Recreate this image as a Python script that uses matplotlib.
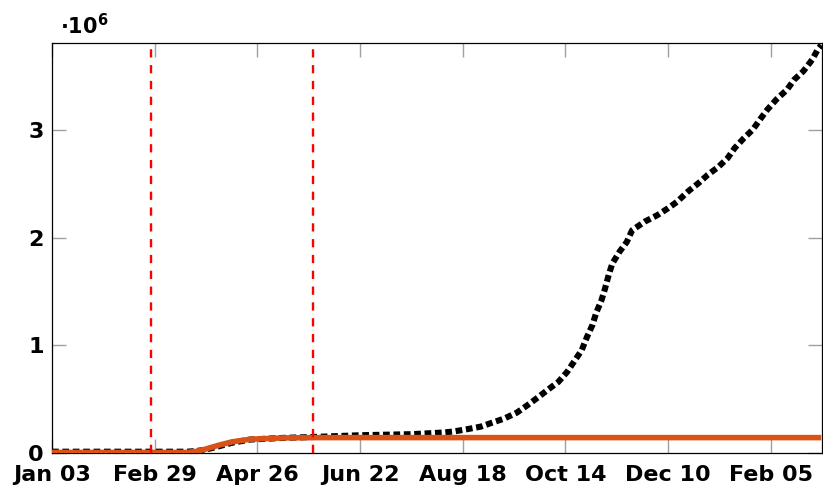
import matplotlib
matplotlib.use("Agg")
import matplotlib.pyplot as plt
import matplotlib.dates as mdates
import pandas as pd

# observed series (millions)
obs_dates = ["2020-01-03", "2020-02-26", "2020-03-18", "2020-03-23", "2020-03-28",
             "2020-04-04", "2020-04-12", "2020-04-22", "2020-05-10", "2020-05-29",
             "2020-06-22", "2020-07-21", "2020-08-07", "2020-08-13", "2020-08-20",
             "2020-08-28", "2020-09-03", "2020-09-10", "2020-09-17", "2020-09-23",
             "2020-09-29", "2020-10-04", "2020-10-10", "2020-10-15", "2020-10-19",
             "2020-10-23", "2020-10-26", "2020-10-29", "2020-10-31", "2020-11-03",
             "2020-11-05", "2020-11-07", "2020-11-09", "2020-11-13", "2020-11-17",
             "2020-11-20", "2020-11-27", "2020-12-04", "2020-12-10", "2020-12-15",
             "2020-12-21", "2020-12-27", "2021-01-01", "2021-01-07", "2021-01-12",
             "2021-01-16", "2021-01-21", "2021-01-26", "2021-01-30", "2021-02-03",
             "2021-02-08", "2021-02-14", "2021-02-18", "2021-02-23", "2021-02-28",
             "2021-03-03", "2021-03-05"]
obs_values = [0.012, 0.012, 0.012, 0.018, 0.03,
              0.06, 0.095, 0.125, 0.14, 0.15,
              0.165, 0.175, 0.19, 0.20, 0.22,
              0.245, 0.28, 0.32, 0.375, 0.445,
              0.52, 0.585, 0.66, 0.755, 0.855,
              0.955, 1.08, 1.19, 1.30, 1.42,
              1.53, 1.655, 1.76, 1.87, 1.96,
              2.07, 2.15, 2.21, 2.275, 2.335,
              2.43, 2.51, 2.585, 2.66, 2.74,
              2.835, 2.925, 3.005, 3.10, 3.19,
              3.284, 3.377, 3.47, 3.547, 3.656,
              3.749, 3.79]

# model series (millions)
model_dates = ["2020-01-03", "2020-03-18", "2020-03-23", "2020-03-28", "2020-04-04",
               "2020-04-12", "2020-04-22", "2020-05-10", "2020-05-29", "2021-03-05"]
model_values = [0.005, 0.005, 0.015, 0.035, 0.07,
                0.104, 0.128, 0.14, 0.143, 0.143]

event_dates = ["2020-02-27", "2020-05-27"]
tick_dates = ["2020-01-03", "2020-02-29", "2020-04-26", "2020-06-22",
              "2020-08-18", "2020-10-14", "2020-12-10", "2021-02-05"]
y_ticks = [0, 1, 2, 3]

fig = plt.figure(figsize=(8.23, 4.86), dpi=100)
ax = fig.add_axes([52 / 823, 1 - 453 / 486, 770 / 823, 410 / 486])

ax.plot(pd.to_datetime(obs_dates), obs_values, color="black", lw=4.4,
        dashes=(1.1, 0.6), dash_capstyle="butt", zorder=3)
ax.plot(pd.to_datetime(model_dates), model_values, color="#D95319", lw=4.0,
        solid_capstyle="butt", zorder=4)
for d in event_dates:
    ax.axvline(pd.Timestamp(d), color="red", lw=1.7, dashes=(3.5, 3.2), zorder=5)

x0 = pd.Timestamp("2020-01-03")
ax.set_xlim(x0, x0 + pd.Timedelta(days=427.4))
ax.set_ylim(0, 3.81)

ax.set_xticks(pd.to_datetime(tick_dates))
ax.xaxis.set_major_formatter(mdates.DateFormatter("%b %d"))
ax.set_yticks(y_ticks)
ax.set_yticklabels([str(v) for v in y_ticks])

ax.tick_params(direction="in", length=10, width=1, color="#a0a0a0",
               top=True, right=True, labelsize=16)
ax.tick_params(axis="x", pad=8.5)
ax.tick_params(axis="y", pad=6)
for lab in ax.get_xticklabels() + ax.get_yticklabels():
    lab.set_fontweight("bold")
for s in ax.spines.values():
    s.set_linewidth(0.9)
    s.set_color("black")

fig.text(60 / 823, 1 - 34 / 486, r"$\mathbf{\cdot 10^{6}}$", fontsize=15,
         ha="left", va="baseline")

fig.savefig("out.png", dpi=100)
